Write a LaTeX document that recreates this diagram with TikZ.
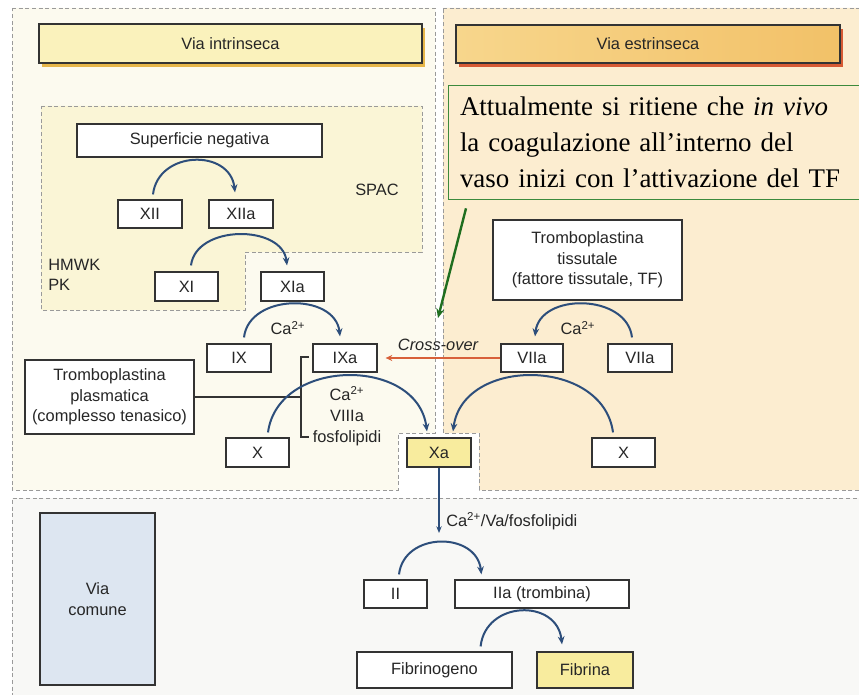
\documentclass[tikz,border=0pt]{standalone}
\usepackage{fontspec}
\setmainfont{Liberation Sans}
\newfontfamily\serifnote{Liberation Serif}
\usetikzlibrary{arrows.meta,calc,shadows}
\definecolor{intbg}{HTML}{FCFAEF}
\definecolor{spacbg}{HTML}{FAF5D6}
\definecolor{extbg}{HTML}{FCEDD0}
\definecolor{combg}{HTML}{F8F8F6}
\definecolor{dashc}{HTML}{9A9A9A}
\definecolor{viaintfill}{HTML}{FAF2BC}
\definecolor{viaintsh}{HTML}{E6B64A}
\definecolor{viaestA}{HTML}{F7D68C}
\definecolor{viaestB}{HTML}{F2C168}
\definecolor{viaestsh}{HTML}{D65A34}
\definecolor{xafill}{HTML}{F8EC9E}
\definecolor{comfill}{HTML}{DDE6F1}
\definecolor{arrowblue}{HTML}{2D4E7B}
\definecolor{crossc}{HTML}{D8603A}
\definecolor{greenc}{HTML}{3C8A3C}
\definecolor{greenarr}{HTML}{1F6E1F}
\begin{document}
\begin{tikzpicture}[x=0.75pt,y=-0.75pt,
  every node/.style={font=\fontsize{12.3}{15.5}\selectfont, text=black!85},
  region/.style={draw=dashc, dash pattern=on 3pt off 2pt, line width=0.6pt},
  fbox/.style={draw=black!80, fill=white, line width=0.9pt, inner sep=0pt, align=center},
  wh/.style 2 args={minimum width=#1*0.75pt, minimum height=#2*0.75pt},
  arc/.style={draw=arrowblue, line width=1.5pt, -{Stealth[length=6pt,width=5pt]}},
  plain/.style={inner sep=0pt, align=center},
]
\useasboundingbox (0,0) rectangle (859,695);
% regions
\fill[white] (0,0) rectangle (859,695);
\fill[combg] (12,498) rectangle (870,710);
\draw[region] (870,498) -- (12,498) -- (12,710);
\path[region, fill=intbg] (12,8) -- (435,8) -- (435,433) -- (398,433) -- (398,490) -- (12,490) -- cycle;
\path[region, fill=extbg] (443,8) -- (870,8) -- (870,490) -- (479,490) -- (479,433) -- (443,433) -- cycle;
\path[region, fill=spacbg] (41,106) -- (422,106) -- (422,252) -- (245,252) -- (245,310) -- (41,310) -- cycle;
% titles
\node[draw=black!80, line width=0.9pt, fill=viaintfill, wh={383}{39},
  general shadow={fill=viaintsh, shadow xshift=2.5pt, shadow yshift=-3pt}] (viaint) at (230.5,43.5) {Via intrinseca};
\node[draw=black!80, line width=0.9pt, left color=viaestA, right color=viaestB, wh={384}{38},
  general shadow={fill=viaestsh, shadow xshift=2.5pt, shadow yshift=-3pt}] (viaest) at (648,44) {Via estrinseca};
% note
\node[draw=greenc, line width=1pt, anchor=north west, minimum width=324pt, minimum height=85.5pt,
  text width=310pt, align=left, inner xsep=8.5pt, text=black,
  font=\serifnote\fontsize{20.2}{27}\selectfont] (note) at (448,85)
  {Attualmente si ritiene che \textit{in vivo}\\la coagulazione all’interno del\\vaso inizi con l’attivazione del TF};
% boxes
\node[fbox, wh={245}{33}] (supneg) at (199.5,140.5) {Superficie negativa};
\node[fbox, wh={64}{28}] (XII) at (150,214) {XII};
\node[fbox, wh={64}{28}] (XIIa) at (241,214) {XIIa};
\node[fbox, wh={63}{29}] (XI) at (186.5,286.5) {XI};
\node[fbox, wh={63}{29}] (XIa) at (292.5,286.5) {XIa};
\node[fbox, wh={64}{28}] (IX) at (239,358) {IX};
\node[fbox, wh={64}{28}] (IXa) at (345,358) {IXa};
\node[fbox, wh={169}{74}] (tplas) at (109.5,397) {Tromboplastina\\plasmatica\\(complesso tenasico)};
\node[fbox, wh={63}{29}] (Xl) at (257.5,452.5) {X};
\node[fbox, wh={64}{29}, fill=xafill] (Xa) at (439,452.5) {Xa};
\node[fbox, wh={62}{28}] (VIIa1) at (532,358) {VIIa};
\node[fbox, wh={64}{28}] (VIIa2) at (640,358) {VIIa};
\node[fbox, wh={189}{80}] (ttiss) at (587.5,260) {Tromboplastina\\tissutale\\(fattore tissutale, TF)};
\node[fbox, wh={63}{29}] (Xr) at (623.5,452.5) {X};
\node[fbox, wh={63}{28}] (II) at (395.5,594) {II};
\node[fbox, wh={174}{28}] (IIa) at (542,594) {IIa (trombina)};
\node[fbox, wh={155}{36}] (fgeno) at (434.5,670) {Fibrinogeno};
\node[fbox, wh={96}{36}, fill=xafill] (fbrina) at (585,670) {Fibrina};
\node[fbox, wh={115}{172}, fill=comfill] (comune) at (97.5,599) {Via\\comune};
% labels
\node[plain] (spac) at (377,190) {SPAC};
\node[plain, anchor=west] (hmwk) at (48,265) {HMWK};
\node[plain, anchor=west] (pk) at (48,285) {PK};
\node[plain] (ca1) at (288,328) {Ca\textsuperscript{2+}};
\node[plain] (ca2) at (578,328) {Ca\textsuperscript{2+}};
\node[plain, font=\fontsize{12.3}{15.75}\selectfont] (cof) at (347,416) {Ca\textsuperscript{2+}\\VIIIa\\fosfolipidi};
\node[plain, font=\itshape\fontsize{12.3}{15}\selectfont] (cross) at (438,345) {Cross-over};
% bracket
\draw[black!80, line width=0.8pt] (tplas.east) -- (301,397);
\draw[black!80, line width=0.8pt] (309,357) -- (301,357) -- (301,437) -- (309,437);
% arcs
\draw[arc] ([shift={(3,-5)}]XII.north) .. controls +(5,-44) and +(-5,-44) .. ([shift={(-6,-7)}]XIIa.north);
\draw[arc] ([shift={(4.5,-6)}]XI.north) .. controls +(5,-41) and +(-5,-41) .. ([shift={(-5.5,-6)}]XIa.north);
\draw[arc] ([shift={(5,-6)}]IX.north) .. controls +(5,-44) and +(-5,-44) .. ([shift={(-5,-7)}]IXa.north);
\draw[arc] ([shift={(-8,-6)}]VIIa2.north) .. controls +(-5,-44) and +(5,-44) .. ([shift={(3,-7)}]VIIa1.north);
\draw[arc] ([shift={(10.5,-5)}]Xl.north) .. controls +(10,-75) and +(-10,-75) .. ([shift={(-12,-6)}]Xa.north);
\draw[arc] ([shift={(-10.5,-5)}]Xr.north) .. controls +(-10,-75) and +(10,-75) .. ([shift={(14,-6)}]Xa.north);
\draw[arc] ([shift={(3.5,-5)}]II.north) .. controls +(5,-43) and +(-5,-43) .. ([shift={(27,-5)}]IIa.north west);
\draw[arc] ([shift={(-32,-5)}]fgeno.north east) .. controls +(5,-46) and +(-5,-46) .. ([shift={(-23,-7)}]fbrina.north);
% straight connectors
\coordinate (thr) at (439,533);
\draw[arrowblue, line width=1.1pt, -{Stealth[length=5pt,width=4pt]}] (Xa.south) -- (thr);
\node[plain, anchor=west] (cofac) at (446,521) {Ca\textsuperscript{2+}/Va/fosfolipidi};
\draw[crossc, line width=1.2pt, -{Stealth[length=5pt,width=4.5pt]}] (VIIa1.west) -- ([shift={(8,0)}]IXa.east);
\coordinate (gend) at (438,318);
\draw[greenarr, line width=1.8pt, -{Stealth[length=7pt,width=6pt]}] ([shift={(18,8)}]note.south west) -- (gend);
\end{tikzpicture}
\end{document}
